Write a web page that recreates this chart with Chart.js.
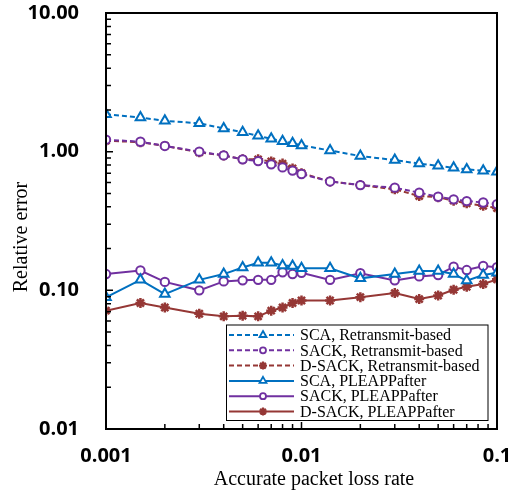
<!DOCTYPE html>
<html>
<head>
<meta charset="utf-8">
<script src="https://cdn.jsdelivr.net/npm/chart.js@4.4.0/dist/chart.umd.min.js"></script>
<style>
html,body{margin:0;padding:0;background:#fff;}
#c{display:block;}
</style>
</head>
<body>
<canvas id="c" width="518" height="496"></canvas>
<script>
// ---- data ----
const lossRates = [0.001,0.0015,0.002,0.003,0.004,0.005,0.006,0.007,0.008,0.009,0.01,0.014,0.02,0.03,0.04,0.05,0.06,0.07,0.085,0.1];
const scaRetransmit   = [1.86,1.76,1.67,1.60,1.47,1.38,1.30,1.24,1.19,1.15,1.11,1.02,0.93,0.87,0.82,0.79,0.765,0.745,0.728,0.716];
const sackRetransmit  = [1.22,1.18,1.10,1.00,0.94,0.88,0.855,0.81,0.77,0.73,0.69,0.61,0.574,0.55,0.506,0.473,0.453,0.44,0.43,0.418];
const dsackRetransmit = [1.20,1.17,1.10,0.99,0.94,0.88,0.88,0.85,0.82,0.757,0.70,0.61,0.574,0.535,0.479,0.47,0.443,0.424,0.407,0.392];
const scaPleap   = [0.089,0.119,0.094,0.119,0.131,0.146,0.158,0.158,0.151,0.150,0.144,0.144,0.122,0.131,0.138,0.138,0.131,0.1175,0.129,0.134];
const sackPleap  = [0.131,0.139,0.115,0.100,0.116,0.118,0.119,0.119,0.135,0.131,0.134,0.119,0.133,0.118,0.126,0.129,0.148,0.140,0.150,0.147];
const dsackPleap = [0.0713,0.081,0.0752,0.0678,0.0649,0.0656,0.0649,0.0713,0.0752,0.081,0.0845,0.0845,0.0893,0.0955,0.0865,0.0918,0.101,0.106,0.111,0.12];
const seriesNames = ['SCA, Retransmit-based','SACK, Retransmit-based','D-SACK, Retransmit-based','SCA, PLEAPPafter','SACK, PLEAPPafter','D-SACK, PLEAPPafter'];
const xTickValues = [0.001, 0.01, 0.1];
const xTickLabels = ['0.001', '0.01', '0.1'];
const yTickValues = [0.01, 0.1, 1, 10];
const yTickLabels = ['0.01', '0.10', '1.00', '10.00'];
const xTitle = 'Accurate packet loss rate';
const yTitle = 'Relative error';

// ---- styles ----
const BLUE = '#0070C0', PURPLE = '#7030A0', RED = '#953735';
const pts = arr => arr.map((v, i) => ({x: lossRates[i], y: v}));
function ds(label, data, color, style, dashed, radius, bw) {
  return {
    label, data: pts(data), borderColor: color, backgroundColor: '#fff',
    pointBorderColor: color, pointBackgroundColor: '#fff',
    borderWidth: 2, borderDash: dashed ? [5, 3] : [],
    pointStyle: style, pointRadius: radius, pointBorderWidth: bw,
    tension: 0, fill: false
  };
}
const datasets = [
  ds(seriesNames[0], scaRetransmit, BLUE, 'triangle', true, 5.5, 2),
  ds(seriesNames[1], sackRetransmit, PURPLE, 'circle', true, 4.2, 2),
  ds(seriesNames[2], dsackRetransmit, RED, 'star', true, 5, 2.5),
  ds(seriesNames[3], scaPleap, BLUE, 'triangle', false, 5.5, 2),
  ds(seriesNames[4], sackPleap, PURPLE, 'circle', false, 4.2, 2),
  ds(seriesNames[5], dsackPleap, RED, 'star', false, 5, 2.5)
];

const tickFont = {family: '"Open Sans"', size: 20, weight: 'bold'};

const framePlugin = {
  id: 'frame',
  afterDraw(chart) {
    const ctx = chart.ctx, a = chart.chartArea;
    const xs = chart.scales.x, ys = chart.scales.y;
    ctx.save();
    ctx.strokeStyle = '#000';
    // minor / major ticks (inward)
    ctx.lineWidth = 1.5;
    ctx.beginPath();
    for (let e = -3; e <= -1; e++) {
      for (let m = 1; m <= 9; m++) {
        const v = m * Math.pow(10, e);
        if (v > 0.1 * 1.0001) continue;
        const px = xs.getPixelForValue(v);
        const len = m === 1 ? 7 : 5;
        ctx.moveTo(px, a.bottom); ctx.lineTo(px, a.bottom - len);
      }
    }
    for (let e = -2; e <= 1; e++) {
      for (let m = 1; m <= 9; m++) {
        const v = m * Math.pow(10, e);
        if (v > 10 * 1.0001) continue;
        const py = ys.getPixelForValue(v);
        const len = m === 1 ? 7 : 5;
        ctx.moveTo(a.left, py); ctx.lineTo(a.left + len, py);
      }
    }
    ctx.stroke();
    // frame
    ctx.lineWidth = 2;
    ctx.strokeRect(a.left, a.top, a.right - a.left, a.bottom - a.top);

    // axis titles
    ctx.fillStyle = '#000';
    ctx.font = '20px "Liberation Serif"';
    ctx.textAlign = 'center';
    ctx.textBaseline = 'middle';
    ctx.fillText(xTitle, 314, 480);
    ctx.save();
    ctx.translate(22, 237);
    ctx.rotate(-Math.PI / 2);
    ctx.fillText(yTitle, 0, 0);
    ctx.restore();

    // legend
    const lx = 226.5, ly = 325, lw = 261.5, lh = 95.5;
    ctx.fillStyle = '#fff';
    ctx.fillRect(lx, ly, lw, lh);
    ctx.lineWidth = 1;
    ctx.strokeStyle = '#000';
    ctx.strokeRect(lx, ly, lw, lh);
    chart.data.datasets.forEach((d, i) => {
      const y = 335 + i * 15.3;
      ctx.save();
      ctx.strokeStyle = d.borderColor;
      ctx.lineWidth = 2;
      ctx.setLineDash(d.borderDash);
      ctx.beginPath();
      ctx.moveTo(229, y); ctx.lineTo(294, y);
      ctx.stroke();
      ctx.setLineDash([]);
      ctx.fillStyle = '#fff';
      ctx.strokeStyle = d.borderColor;
      ctx.lineWidth = d.pointStyle === 'star' ? 2.2 : 1.8;
      Chart.helpers.drawPoint(ctx, {pointStyle: d.pointStyle, radius: d.pointStyle === 'circle' ? 3 : 4, rotation: 0, borderWidth: ctx.lineWidth}, 263, y);
      ctx.restore();
      ctx.fillStyle = '#000';
      ctx.font = '16px "Liberation Serif"';
      ctx.textAlign = 'left';
      ctx.textBaseline = 'middle';
      ctx.fillText(d.label, 300, y + 1);
    });
    ctx.restore();
  }
};

new Chart(document.getElementById('c'), {
  type: 'line',
  data: {datasets},
  options: {
    responsive: false,
    animation: false,
    devicePixelRatio: 1,
    layout: {padding: {left: 0, right: 21, top: 13, bottom: 0}},
    plugins: {legend: {display: false}, tooltip: {enabled: false}},
    scales: {
      x: {
        type: 'logarithmic', min: 0.001, max: 0.1,
        grid: {display: false, drawTicks: false},
        border: {display: false},
        ticks: {font: tickFont, color: '#000', padding: 15, maxRotation: 0, autoSkip: false,
                callback: (v, i) => xTickLabels[i]},
        afterBuildTicks: s => { s.ticks = xTickValues.map(v => ({value: v})); },
        afterFit: s => { s.height = 67; s.paddingLeft = 0; s.paddingRight = 0; }
      },
      y: {
        type: 'logarithmic', min: 0.01, max: 10,
        grid: {display: false, drawTicks: false},
        border: {display: false},
        ticks: {font: tickFont, color: '#000', padding: 27, autoSkip: false,
                callback: (v, i) => yTickLabels[i]},
        afterBuildTicks: s => { s.ticks = yTickValues.map(v => ({value: v})); },
        afterFit: s => { s.width = 106; s.paddingTop = 0; s.paddingBottom = 0; }
      }
    }
  },
  plugins: [framePlugin]
});
</script>
</body>
</html>
